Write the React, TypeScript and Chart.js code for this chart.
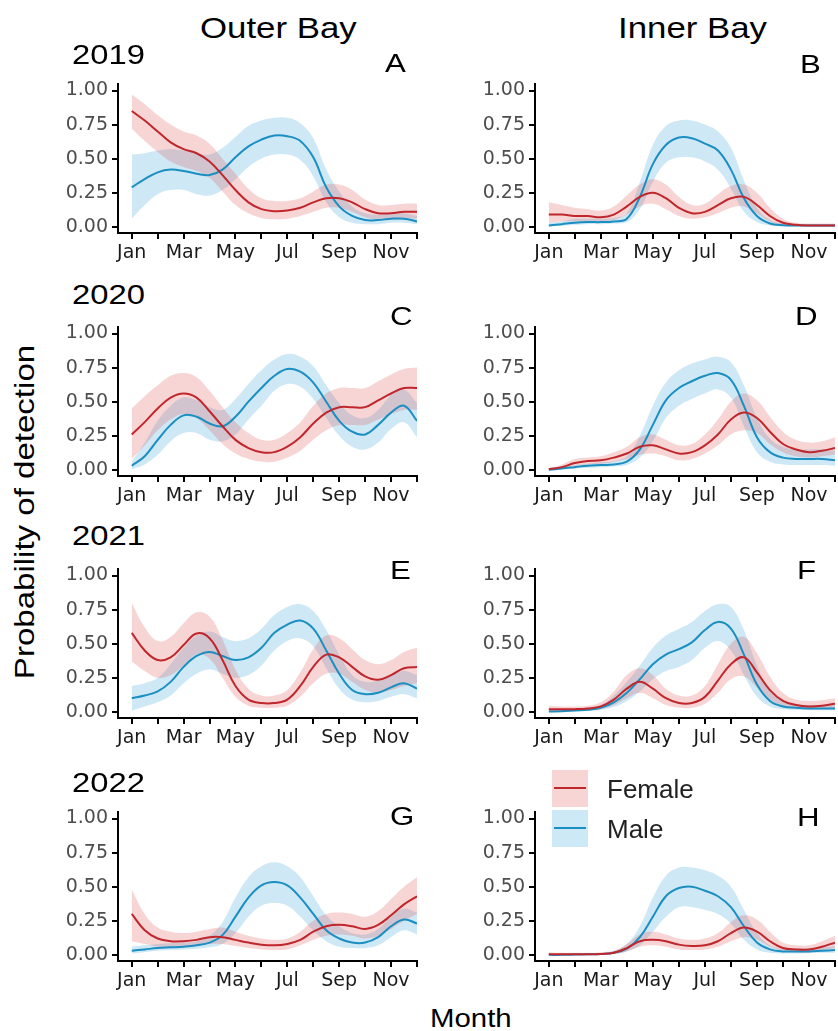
import React, { useEffect, useRef } from "react";
import { Chart, registerables } from "chart.js";
Chart.register(...registerables);

// ---------- data ----------
const X_POS = [0, 0.5, 1, 1.5, 2, 2.5, 3, 3.5, 4, 4.5, 5, 5.5, 6, 6.5, 7, 7.5, 8, 8.5, 9, 9.5, 10, 10.5, 11];
const MONTH_TICKS = [0, 1, 2, 3, 4, 5, 6, 7, 8, 9, 10, 11];
const MONTH_LABELS = ["Jan", "Mar", "May", "Jul", "Sep", "Nov"];
const Y_TICKS = [0, 0.25, 0.5, 0.75, 1];
const SITES = ["Outer Bay", "Inner Bay"];
const YEARS = ["2019", "2020", "2021", "2022"];
const LETTERS = ["A", "B", "C", "D", "E", "F", "G", "H"];
const SERIES = ["Female", "Male"];

// Panel A (2019 Outer Bay)
const A_FEM = [0.85,0.78,0.70,0.62,0.57,0.54,0.48,0.38,0.27,0.18,0.13,0.115,0.12,0.14,0.18,0.21,0.21,0.18,0.13,0.10,0.10,0.11,0.11];
const A_FEM_LO = [0.72,0.63,0.55,0.48,0.44,0.41,0.36,0.26,0.16,0.10,0.065,0.055,0.06,0.08,0.11,0.14,0.14,0.11,0.07,0.05,0.05,0.06,0.06];
const A_FEM_HI = [0.97,0.90,0.82,0.75,0.70,0.67,0.61,0.50,0.39,0.28,0.21,0.19,0.19,0.21,0.26,0.31,0.31,0.27,0.20,0.16,0.16,0.17,0.17];
const A_MAL = [0.29,0.35,0.40,0.42,0.41,0.39,0.38,0.42,0.51,0.59,0.64,0.67,0.665,0.63,0.51,0.29,0.15,0.08,0.05,0.05,0.06,0.06,0.04];
const A_MAL_LO = [0.06,0.16,0.24,0.27,0.27,0.24,0.23,0.27,0.35,0.44,0.50,0.53,0.53,0.49,0.37,0.18,0.07,0.03,0.02,0.02,0.03,0.03,0.02];
const A_MAL_HI = [0.53,0.54,0.56,0.57,0.56,0.54,0.53,0.58,0.66,0.74,0.78,0.80,0.80,0.76,0.65,0.42,0.26,0.15,0.10,0.09,0.10,0.10,0.08];

// Panel B (2019 Inner Bay)
const B_FEM = [0.09,0.09,0.08,0.08,0.07,0.09,0.15,0.22,0.25,0.21,0.14,0.10,0.11,0.16,0.21,0.22,0.16,0.08,0.03,0.015,0.01,0.01,0.01];
const B_FEM_LO = [0.03,0.04,0.04,0.04,0.04,0.05,0.09,0.15,0.17,0.13,0.08,0.06,0.07,0.10,0.14,0.15,0.10,0.04,0.01,0.005,0.003,0.003,0.003];
const B_FEM_HI = [0.18,0.16,0.14,0.13,0.12,0.15,0.23,0.31,0.35,0.31,0.22,0.16,0.17,0.24,0.30,0.31,0.25,0.14,0.06,0.03,0.025,0.025,0.025];
const B_MAL = [0.01,0.02,0.03,0.035,0.035,0.04,0.06,0.22,0.46,0.60,0.655,0.65,0.61,0.56,0.42,0.21,0.08,0.025,0.012,0.01,0.01,0.01,0.01];
const B_MAL_LO = [0.003,0.008,0.015,0.02,0.02,0.025,0.035,0.13,0.33,0.47,0.51,0.51,0.48,0.42,0.28,0.11,0.035,0.01,0.005,0.004,0.004,0.004,0.004];
const B_MAL_HI = [0.03,0.04,0.06,0.06,0.06,0.065,0.10,0.33,0.60,0.74,0.78,0.78,0.75,0.70,0.58,0.34,0.14,0.05,0.025,0.02,0.02,0.02,0.02];

// Panel C (2020 Outer Bay)
const C_FEM = [0.26,0.35,0.45,0.53,0.56,0.53,0.43,0.32,0.22,0.16,0.13,0.13,0.17,0.24,0.34,0.42,0.46,0.46,0.46,0.51,0.56,0.60,0.60];
const C_FEM_LO = [0.08,0.18,0.29,0.37,0.41,0.38,0.29,0.19,0.12,0.08,0.06,0.06,0.09,0.14,0.22,0.29,0.33,0.33,0.33,0.37,0.41,0.44,0.44];
const C_FEM_HI = [0.45,0.54,0.62,0.69,0.71,0.68,0.58,0.46,0.35,0.27,0.22,0.22,0.27,0.35,0.47,0.56,0.60,0.60,0.60,0.65,0.70,0.74,0.75];
const C_MAL = [0.03,0.10,0.22,0.33,0.40,0.39,0.34,0.32,0.39,0.50,0.60,0.69,0.74,0.72,0.64,0.50,0.36,0.28,0.26,0.33,0.42,0.47,0.36];
const C_MAL_LO = [0.005,0.04,0.11,0.21,0.27,0.27,0.22,0.21,0.26,0.37,0.47,0.58,0.63,0.61,0.52,0.38,0.25,0.17,0.15,0.20,0.30,0.35,0.24];
const C_MAL_HI = [0.06,0.20,0.36,0.47,0.53,0.51,0.46,0.44,0.52,0.63,0.73,0.81,0.85,0.83,0.76,0.62,0.49,0.40,0.38,0.44,0.55,0.59,0.49];

// Panel D (2020 Inner Bay)
const D_FEM = [0.005,0.02,0.05,0.065,0.07,0.09,0.12,0.17,0.18,0.15,0.12,0.13,0.18,0.26,0.37,0.42,0.38,0.28,0.19,0.15,0.13,0.14,0.16];
const D_FEM_LO = [0.002,0.01,0.03,0.04,0.045,0.06,0.08,0.11,0.12,0.10,0.07,0.08,0.12,0.18,0.26,0.29,0.27,0.19,0.13,0.10,0.09,0.10,0.11];
const D_FEM_HI = [0.01,0.04,0.08,0.09,0.10,0.13,0.17,0.24,0.26,0.22,0.18,0.19,0.26,0.37,0.50,0.56,0.51,0.39,0.28,0.22,0.20,0.21,0.24];
const D_MAL = [0.0,0.01,0.02,0.03,0.035,0.04,0.06,0.15,0.33,0.51,0.60,0.65,0.69,0.71,0.66,0.47,0.24,0.13,0.09,0.08,0.08,0.08,0.07];
const D_MAL_LO = [0.0,0.005,0.01,0.015,0.02,0.025,0.035,0.09,0.21,0.38,0.47,0.52,0.56,0.59,0.53,0.32,0.13,0.06,0.04,0.035,0.035,0.035,0.03];
const D_MAL_HI = [0.005,0.02,0.035,0.045,0.055,0.065,0.10,0.25,0.47,0.64,0.73,0.78,0.81,0.83,0.79,0.62,0.38,0.23,0.17,0.15,0.15,0.15,0.14];

// Panel E (2021 Outer Bay)
const E_FEM = [0.58,0.45,0.38,0.40,0.49,0.575,0.54,0.38,0.19,0.09,0.065,0.065,0.09,0.19,0.33,0.42,0.40,0.33,0.26,0.235,0.27,0.32,0.33];
const E_FEM_LO = [0.37,0.30,0.25,0.27,0.34,0.42,0.39,0.25,0.11,0.045,0.03,0.03,0.045,0.11,0.21,0.28,0.28,0.22,0.16,0.14,0.16,0.19,0.21];
const E_FEM_HI = [0.80,0.62,0.52,0.55,0.65,0.73,0.70,0.53,0.31,0.17,0.12,0.12,0.16,0.29,0.46,0.56,0.54,0.46,0.38,0.35,0.38,0.44,0.47];
const E_MAL = [0.10,0.12,0.15,0.22,0.33,0.41,0.44,0.41,0.38,0.40,0.47,0.58,0.64,0.67,0.61,0.45,0.28,0.16,0.13,0.14,0.18,0.21,0.17];
const E_MAL_LO = [0.01,0.04,0.07,0.12,0.21,0.28,0.31,0.28,0.25,0.27,0.34,0.45,0.52,0.54,0.48,0.32,0.17,0.09,0.07,0.08,0.11,0.13,0.10];
const E_MAL_HI = [0.19,0.21,0.25,0.35,0.47,0.56,0.59,0.55,0.52,0.54,0.61,0.71,0.77,0.79,0.74,0.60,0.42,0.27,0.22,0.23,0.27,0.30,0.27];

// Panel F (2021 Inner Bay)
const F_FEM = [0.02,0.02,0.02,0.025,0.04,0.09,0.17,0.22,0.17,0.10,0.065,0.065,0.11,0.23,0.35,0.40,0.29,0.16,0.08,0.05,0.04,0.045,0.06];
const F_FEM_LO = [0.005,0.005,0.008,0.012,0.02,0.05,0.10,0.14,0.10,0.05,0.03,0.03,0.06,0.14,0.24,0.26,0.18,0.09,0.04,0.025,0.02,0.025,0.03];
const F_FEM_HI = [0.045,0.04,0.04,0.045,0.07,0.15,0.27,0.32,0.27,0.17,0.12,0.12,0.19,0.35,0.50,0.55,0.43,0.26,0.14,0.09,0.08,0.085,0.10];
const F_MAL = [0.003,0.005,0.01,0.015,0.03,0.07,0.14,0.24,0.35,0.42,0.46,0.51,0.60,0.66,0.61,0.42,0.20,0.08,0.04,0.03,0.025,0.025,0.025];
const F_MAL_LO = [0.001,0.002,0.004,0.007,0.015,0.035,0.08,0.15,0.24,0.30,0.33,0.38,0.47,0.52,0.45,0.27,0.11,0.04,0.02,0.015,0.012,0.012,0.012];
const F_MAL_HI = [0.01,0.015,0.02,0.03,0.05,0.12,0.22,0.34,0.47,0.56,0.61,0.66,0.74,0.79,0.77,0.60,0.34,0.15,0.08,0.06,0.05,0.05,0.05];

// Panel G (2022 Outer Bay)
const G_FEM = [0.30,0.18,0.12,0.10,0.10,0.11,0.13,0.13,0.11,0.09,0.075,0.07,0.08,0.11,0.17,0.21,0.22,0.21,0.19,0.22,0.29,0.37,0.43];
const G_FEM_LO = [0.10,0.08,0.06,0.055,0.06,0.07,0.08,0.08,0.065,0.05,0.04,0.035,0.04,0.07,0.11,0.14,0.15,0.14,0.12,0.14,0.19,0.25,0.30];
const G_FEM_HI = [0.48,0.30,0.20,0.17,0.16,0.17,0.19,0.20,0.17,0.14,0.12,0.11,0.12,0.17,0.25,0.30,0.31,0.30,0.28,0.32,0.41,0.50,0.57];
const G_MAL = [0.03,0.04,0.05,0.055,0.06,0.07,0.09,0.145,0.28,0.42,0.51,0.535,0.51,0.42,0.30,0.18,0.12,0.09,0.09,0.13,0.21,0.26,0.23];
const G_MAL_LO = [0.01,0.02,0.03,0.035,0.04,0.045,0.055,0.08,0.16,0.28,0.36,0.38,0.36,0.28,0.18,0.10,0.06,0.05,0.05,0.07,0.13,0.18,0.15];
const G_MAL_HI = [0.06,0.07,0.08,0.085,0.09,0.10,0.14,0.24,0.42,0.57,0.65,0.68,0.65,0.57,0.43,0.29,0.21,0.16,0.15,0.19,0.28,0.34,0.31];

// Panel H (2022 Inner Bay)
const H_FEM = [0.005,0.005,0.005,0.005,0.007,0.015,0.05,0.10,0.11,0.10,0.075,0.065,0.07,0.10,0.16,0.20,0.17,0.10,0.05,0.04,0.04,0.06,0.09];
const H_FEM_LO = [0.001,0.001,0.001,0.002,0.003,0.007,0.025,0.06,0.07,0.06,0.04,0.035,0.04,0.06,0.10,0.13,0.11,0.06,0.03,0.02,0.02,0.035,0.05];
const H_FEM_HI = [0.02,0.015,0.015,0.015,0.02,0.03,0.08,0.15,0.17,0.15,0.12,0.11,0.12,0.16,0.24,0.29,0.26,0.17,0.09,0.07,0.07,0.10,0.14];
const H_MAL = [0.0,0.0,0.002,0.004,0.006,0.015,0.045,0.13,0.28,0.43,0.49,0.50,0.47,0.43,0.35,0.21,0.09,0.04,0.025,0.025,0.025,0.03,0.035];
const H_MAL_LO = [0,0,0,0.001,0.002,0.006,0.025,0.07,0.17,0.28,0.35,0.35,0.33,0.30,0.23,0.11,0.04,0.015,0.01,0.01,0.012,0.015,0.015];
const H_MAL_HI = [0.002,0.002,0.005,0.008,0.012,0.03,0.08,0.21,0.42,0.58,0.64,0.64,0.62,0.58,0.50,0.33,0.16,0.07,0.045,0.045,0.05,0.055,0.065];

const PANEL_DATA = [
  [A_FEM, A_FEM_LO, A_FEM_HI, A_MAL, A_MAL_LO, A_MAL_HI],
  [B_FEM, B_FEM_LO, B_FEM_HI, B_MAL, B_MAL_LO, B_MAL_HI],
  [C_FEM, C_FEM_LO, C_FEM_HI, C_MAL, C_MAL_LO, C_MAL_HI],
  [D_FEM, D_FEM_LO, D_FEM_HI, D_MAL, D_MAL_LO, D_MAL_HI],
  [E_FEM, E_FEM_LO, E_FEM_HI, E_MAL, E_MAL_LO, E_MAL_HI],
  [F_FEM, F_FEM_LO, F_FEM_HI, F_MAL, F_MAL_LO, F_MAL_HI],
  [G_FEM, G_FEM_LO, G_FEM_HI, G_MAL, G_MAL_LO, G_MAL_HI],
  [H_FEM, H_FEM_LO, H_FEM_HI, H_MAL, H_MAL_LO, H_MAL_HI],
];

// ---------- styles ----------
const FEM_LINE = "#c0272d";
const MAL_LINE = "#1b8ec2";
const FEM_FILL = "rgba(222, 80, 80, 0.24)";
const MAL_FILL = "rgba(105, 185, 225, 0.33)";
const FEM_KEY = "rgb(247, 213, 213)";
const MAL_KEY = "rgb(205, 233, 245)";
const TXT_FONT = "'Liberation Sans', Arial, Helvetica, sans-serif";
const TICK_FONT = "'DejaVu Sans', sans-serif";

const CANVAS_W = 380;
const CANVAS_H = 204;
const PAD_TOP = 14;
const COL_LEFT = [40, 458];
const COL_YW = [78, 77];
const ROW_TOP = [69, 312, 554, 797];

const pts = (arr: number[]) => X_POS.map((x, i) => ({ x, y: arr[i] }));

function Panel({ idx }: { idx: number }) {
  const ref = useRef<HTMLCanvasElement>(null);
  const col = idx % 2;
  const row = Math.floor(idx / 2);
  useEffect(() => {
    const [fm, flo, fhi, mm, mlo, mhi] = PANEL_DATA[idx];
    const lineCommon = { pointRadius: 0, tension: 0.4 };
    const bandCommon = { pointRadius: 0, borderWidth: 0, borderColor: "rgba(0,0,0,0)", tension: 0.4 };
    const yW = COL_YW[col];
    const chart = new Chart(ref.current!, {
      type: "line",
      data: {
        datasets: [
          { label: SERIES[0], data: pts(fm), borderColor: FEM_LINE, borderWidth: 2, fill: false, ...lineCommon },
          { label: SERIES[1], data: pts(mm), borderColor: MAL_LINE, borderWidth: 2, fill: false, ...lineCommon },
          { label: SERIES[0] + " upper", data: pts(fhi), fill: 3, backgroundColor: FEM_FILL, ...bandCommon },
          { label: SERIES[0] + " lower", data: pts(flo), fill: false, ...bandCommon },
          { label: SERIES[1] + " upper", data: pts(mhi), fill: 5, backgroundColor: MAL_FILL, ...bandCommon },
          { label: SERIES[1] + " lower", data: pts(mlo), fill: false, ...bandCommon },
        ],
      },
      options: {
        animation: false,
        responsive: false,
        devicePixelRatio: 1,
        events: [],
        layout: { padding: { top: PAD_TOP, left: 0, right: 0, bottom: 0 } },
        plugins: { legend: { display: false }, tooltip: { enabled: false } },
        scales: {
          x: {
            type: "linear",
            min: -0.53,
            max: 11,
            afterBuildTicks: (s: any) => {
              s.ticks = MONTH_TICKS.map((v) => ({ value: v }));
            },
            afterFit: (s: any) => {
              s.height = 40;
            },
            ticks: {
              autoSkip: false,
              maxRotation: 0,
              padding: 3,
              color: "#1a1a1a",
              font: { family: TICK_FONT, size: 19 },
              callback: (v: any) => (v % 2 === 0 && v / 2 < MONTH_LABELS.length ? MONTH_LABELS[v / 2] : ""),
            },
            grid: { drawOnChartArea: false, drawTicks: true, tickLength: 6, lineWidth: 2, color: "#000" },
            border: { display: true, color: "#000", width: 2 },
          },
          y: {
            type: "linear",
            min: -0.045,
            max: 1.045,
            afterBuildTicks: (s: any) => {
              s.ticks = Y_TICKS.map((v) => ({ value: v }));
            },
            afterFit: (s: any) => {
              s.width = yW;
            },
            ticks: {
              padding: 4,
              color: "#4d4d4d",
              font: { family: TICK_FONT, size: 19 },
              callback: (v: any) => Number(v).toFixed(2),
            },
            grid: { drawOnChartArea: false, drawTicks: true, tickLength: 6, lineWidth: 2, color: "#000" },
            border: { display: true, color: "#000", width: 2 },
          },
        },
      } as any,
    });
    return () => chart.destroy();
  }, [idx, col]);
  return (
    <canvas
      ref={ref}
      width={CANVAS_W}
      height={CANVAS_H}
      style={{ position: "absolute", left: COL_LEFT[col], top: ROW_TOP[row], width: CANVAS_W, height: CANVAS_H }}
    />
  );
}

function Txt({ text, x, baseline, size, sx = 1, color = "#000" }: any) {
  return (
    <div
      style={{
        position: "absolute",
        left: x,
        top: baseline - 0.8465 * size,
        fontFamily: TXT_FONT,
        fontSize: size,
        lineHeight: 1,
        whiteSpace: "nowrap",
        color,
        transform: `scaleX(${sx})`,
        transformOrigin: "0 0",
      }}
    >
      {text}
    </div>
  );
}

const SITE_X = [200, 618];
const YEAR_BASE = [65, 305, 546, 793];
const LETTER_POS = [
  [385, 72], [800, 73], [390, 325], [795, 325],
  [390, 579], [797, 579], [390, 825], [797, 826],
];

export default function App() {
  return (
    <div style={{ position: "absolute", left: 0, top: 0, width: 838, height: 1031, background: "#fff", overflow: "hidden" }}>
      {LETTERS.map((_, i) => (
        <Panel key={i} idx={i} />
      ))}
      {SITES.map((s, i) => (
        <Txt key={s} text={s} x={SITE_X[i]} baseline={38} size={30} sx={1.16} />
      ))}
      {YEARS.map((y, i) => (
        <Txt key={y} text={y} x={72} baseline={YEAR_BASE[i]} size={28} sx={1.17} />
      ))}
      {LETTERS.map((l, i) => (
        <Txt key={l} text={l} x={LETTER_POS[i][0]} baseline={LETTER_POS[i][1]} size={26} sx={1.2} />
      ))}
      <Txt text="Month" x={430} baseline={1027} size={26} sx={1.13} />
      <div
        style={{
          position: "absolute",
          left: 25,
          top: 512,
          fontFamily: TXT_FONT,
          fontSize: 28,
          lineHeight: 1,
          whiteSpace: "nowrap",
          transform: "translate(-50%, -50%) rotate(-90deg) scaleX(1.18)",
          transformOrigin: "center",
        }}
      >
        Probability of detection
      </div>
      {/* legend */}
      <div style={{ position: "absolute", left: 552, top: 770, width: 36, height: 37, background: FEM_KEY }}>
        <div style={{ position: "absolute", left: 2, width: 32, top: 17, height: 2, background: FEM_LINE }} />
      </div>
      <div style={{ position: "absolute", left: 552, top: 810, width: 36, height: 37, background: MAL_KEY }}>
        <div style={{ position: "absolute", left: 2, width: 32, top: 17, height: 2, background: MAL_LINE }} />
      </div>
      <Txt text={SERIES[0]} x={607} baseline={798} size={25} sx={1.04} color="#222" />
      <Txt text={SERIES[1]} x={607} baseline={838} size={25} sx={1.04} color="#222" />
    </div>
  );
}
